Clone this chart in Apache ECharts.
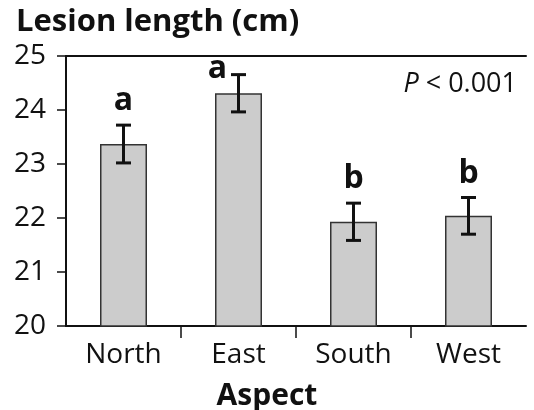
<!DOCTYPE html>
<html>
<head>
<meta charset="utf-8">
<script src="https://cdn.jsdelivr.net/npm/echarts@6/dist/echarts.min.js"></script>
<style>
  html, body { margin: 0; padding: 0; background: #fff; }
  #chart { width: 534px; height: 410px; }
</style>
</head>
<body>
<div id="chart"></div>
<script>
var aspects = ['North', 'East', 'South', 'West']
var means = [23.37, 24.31, 21.93, 22.04]
var errors = [0.35, 0.345, 0.345, 0.34]
var letters = ['a', 'a', 'b', 'b']
var boundaries = ['', '', '', '', '']

var FONT = '"Open Sans", "Noto Sans", sans-serif'
var chart = echarts.init(document.getElementById('chart'), null, {renderer: 'canvas'})

// error bars + significance letters
var errData = aspects.map(function (a, i) {
    return [i, means[i] - errors[i], means[i] + errors[i], letters[i]]
})

const renderErr = (params, api) => {
    let x = api.coord([api.value(0), 0])[0]
    let lo = api.coord([api.value(0), api.value(1)])[1]
    let hi = api.coord([api.value(0), api.value(2)])[1]
    let cap = 7.5
    let st = {stroke: '#111', lineWidth: 3}
    let top = params.coordSys.y
    // letter goes left of the cap when there is no room above
    let crowded = hi - top < 30
    return {
        type: 'group',
        children: [
            {type: 'line', shape: {x1: x, y1: lo, x2: x, y2: hi}, style: st},
            {type: 'line', shape: {x1: x - cap, y1: lo, x2: x + cap, y2: lo}, style: st},
            {type: 'line', shape: {x1: x - cap, y1: hi, x2: x + cap, y2: hi}, style: st},
            {
                type: 'text',
                style: {
                    text: api.value(3),
                    x: crowded ? x - 21 : x,
                    y: crowded ? hi + 10 : hi - 8,
                    align: 'center',
                    verticalAlign: 'bottom',
                    font: 'bold 32px ' + FONT,
                    fill: '#111'
                }
            }
        ]
    }
}

var option = {
    animation: false,
    textStyle: {fontFamily: FONT},
    title: [
        {
            text: 'Lesion length (cm)',
            left: 11, top: 2,
            textStyle: {fontSize: 31, fontWeight: 'bold', color: '#111', fontFamily: FONT}
        },
        {
            text: 'Aspect',
            left: 'center', top: 376,
            textStyle: {fontSize: 30, fontWeight: 'bold', color: '#111', fontFamily: FONT}
        },
        {
            text: '{i|P} < 0.001',
            right: 12, top: 66,
            textStyle: {
                fontSize: 27, fontWeight: 'normal', color: '#111', fontFamily: FONT,
                rich: {i: {fontSize: 27, fontStyle: 'italic', color: '#111', fontFamily: FONT}}
            }
        }
    ],
    grid: {left: 66, right: 8, top: 56, bottom: 84, containLabel: false},
    xAxis: [
        {
            type: 'category',
            data: aspects,
            axisLine: {lineStyle: {color: '#111', width: 2}},
            axisTick: {show: false},
            axisLabel: {color: '#111', fontSize: 28, margin: 15, fontFamily: FONT}
        },
        {
            // interior category boundary ticks only
            type: 'category',
            data: boundaries,
            boundaryGap: false,
            position: 'bottom',
            axisLine: {show: false},
            axisTick: {
                show: true, length: 12,
                interval: (i) => i > 0 && i < boundaries.length - 1,
                lineStyle: {color: '#111', width: 1.5}
            },
            axisLabel: {show: false}
        },
        {
            type: 'value',
            position: 'top',
            axisLine: {show: true, onZero: false, lineStyle: {color: '#111', width: 2}},
            axisTick: {show: false},
            axisLabel: {show: false},
            splitLine: {show: false}
        }
    ],
    yAxis: {
        type: 'value',
        min: 20, max: 25, interval: 1,
        axisLine: {show: true, lineStyle: {color: '#111', width: 2}},
        axisTick: {show: true, length: 9, lineStyle: {color: '#111', width: 1.5}},
        axisLabel: {color: '#111', fontSize: 28, margin: 20, fontFamily: FONT},
        splitLine: {show: false}
    },
    series: [
        {
            type: 'bar',
            data: means,
            barWidth: 47,
            itemStyle: {color: '#cccccc', borderColor: '#333', borderWidth: 1.5}
        },
        {
            type: 'custom',
            data: errData,
            renderItem: renderErr,
            encode: {x: 0, y: [1, 2]},
            z: 5
        }
    ]
}

chart.setOption(option)
</script>
</body>
</html>
